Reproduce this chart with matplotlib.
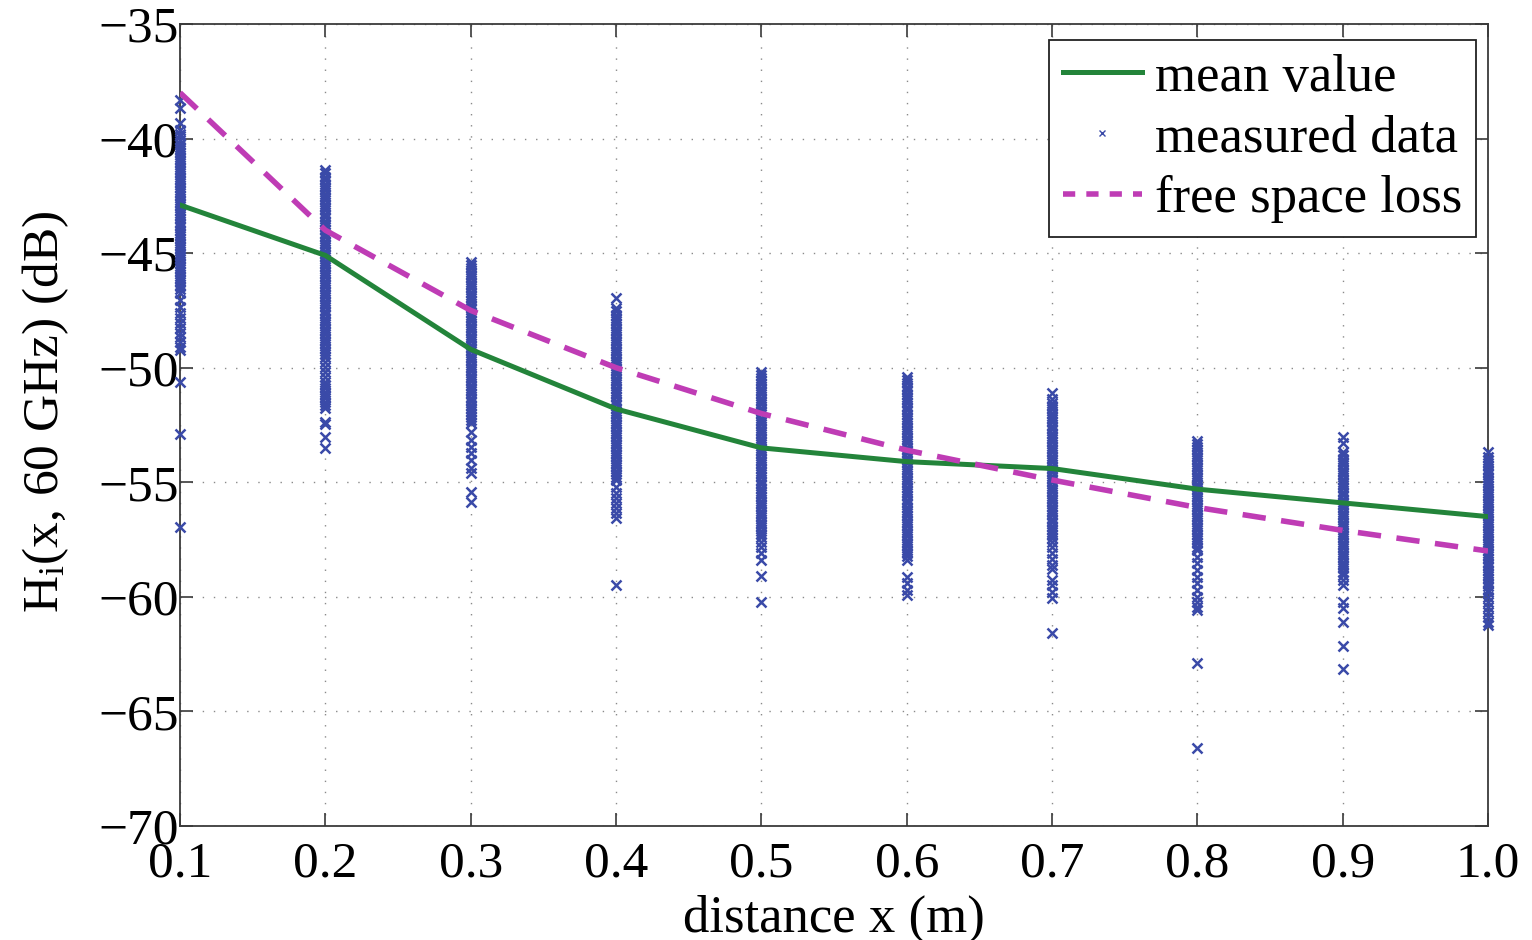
import matplotlib
matplotlib.use("Agg")
import matplotlib.pyplot as plt
from matplotlib.lines import Line2D

plt.rcParams['font.family'] = ['Liberation Serif', 'DejaVu Serif']
plt.rcParams['mathtext.fontset'] = 'custom'
plt.rcParams['mathtext.rm'] = 'Liberation Serif'
plt.rcParams['mathtext.it'] = 'Liberation Serif:italic'

# distances (m)
distance = [0.1, 0.2, 0.3, 0.4, 0.5, 0.6, 0.7, 0.8, 0.9, 1.0]

# mean of the measured transfer function (dB)
mean_db = [-42.9, -45.1, -49.2, -51.8, -53.5, -54.1, -54.4, -55.3, -55.9, -56.5]

# free space loss (dB)
fsl_db = [-38.0, -44.0, -47.5, -50.0, -52.0, -53.6, -54.9, -56.1, -57.1, -58.0]

# measured samples, one list per distance (dB)
db_x01 = [-38.32, -38.67, -39.32,
          -39.62, -39.78, -39.91, -40.05, -40.22, -40.36, -40.51, -40.64, -40.8, -40.93,
          -41.08, -41.24, -41.37, -41.52, -41.66, -41.81, -41.95, -42.1, -42.23, -42.39,
          -42.52, -42.68, -42.81, -42.96, -43.1, -43.25, -43.39, -43.53, -43.68, -43.82,
          -43.97, -44.11, -44.26, -44.4, -44.54, -44.69, -44.83, -44.98, -45.12, -45.27,
          -45.41, -45.55, -45.7, -45.84, -45.99, -46.14, -46.28, -46.43, -46.58, -46.72,
          -47.05, -47.35, -47.6, -47.83, -48.05, -48.27, -48.5, -48.67, -48.88, -49.1,
          -49.23, -50.62, -52.89, -56.95]
db_x02 = [-41.37, -41.5,
          -41.68, -41.82, -41.97, -42.12, -42.26, -42.41, -42.55, -42.7, -42.85, -42.99,
          -43.14, -43.28, -43.43, -43.58, -43.72, -43.87, -44.01, -44.16, -44.31, -44.45,
          -44.6, -44.74, -44.89, -45.04, -45.18, -45.33, -45.47, -45.62, -45.77, -45.91,
          -46.06, -46.2, -46.35, -46.5, -46.64, -46.79, -46.93, -47.08, -47.23, -47.37,
          -47.52, -47.66, -47.81, -47.96, -48.1, -48.25, -48.39, -48.54, -48.69, -48.83,
          -48.98, -49.12, -49.27, -49.41, -49.53,
          -49.75, -49.97, -50.19, -50.4, -50.62, -50.75, -50.89, -51.06, -51.19, -51.32,
          -51.5, -51.63, -51.76, -52.37, -52.45, -53.02, -53.5]
db_x03 = [-45.39,
          -45.52, -45.66, -45.81, -45.95, -46.1, -46.24, -46.39, -46.53, -46.68, -46.82,
          -46.97, -47.11, -47.26, -47.4, -47.55, -47.69, -47.84, -47.98, -48.13, -48.27,
          -48.42, -48.56, -48.71, -48.85, -49.0, -49.14, -49.29, -49.43, -49.58, -49.72,
          -49.87, -50.01, -50.16, -50.3, -50.45, -50.59, -50.74, -50.88, -51.03, -51.17,
          -51.32, -51.46, -51.61, -51.75, -51.9, -52.04, -52.17, -52.28,
          -52.41, -52.81, -53.15, -53.46, -53.72, -54.03, -54.38, -54.6, -55.42, -55.86]
db_x04 = [-46.96,
          -47.39, -47.53, -47.68, -47.82, -47.97, -48.11, -48.26, -48.4, -48.55, -48.69,
          -48.84, -48.98, -49.13, -49.27, -49.42, -49.56, -49.71, -49.85, -50.0, -50.14,
          -50.29, -50.43, -50.58, -50.72, -50.87, -51.01, -51.16, -51.3, -51.45, -51.59,
          -51.74, -51.88, -52.03, -52.17, -52.32, -52.46, -52.61, -52.75, -52.9, -53.04,
          -53.19, -53.33, -53.48, -53.62, -53.77, -53.91, -54.06, -54.2, -54.35, -54.49,
          -54.64, -54.78, -54.9,
          -55.21, -55.47, -55.69, -55.9, -56.12, -56.34, -56.56, -59.48]
db_x05 = [-50.19,
          -50.3, -50.44, -50.59, -50.73, -50.88, -51.02, -51.17, -51.31, -51.46, -51.6,
          -51.75, -51.89, -52.04, -52.18, -52.33, -52.47, -52.62, -52.76, -52.91, -53.05,
          -53.2, -53.34, -53.49, -53.63, -53.78, -53.92, -54.07, -54.21, -54.36, -54.5,
          -54.65, -54.79, -54.94, -55.08, -55.23, -55.37, -55.52, -55.66, -55.81, -55.95,
          -56.1, -56.24, -56.39, -56.53, -56.68, -56.82, -56.97, -57.11, -57.26, -57.39,
          -57.6, -57.82, -58.09, -58.39, -59.09, -60.23]
db_x06 = [-50.4,
          -50.55, -50.69, -50.84, -50.98, -51.13, -51.27, -51.42, -51.56, -51.71, -51.85,
          -52.0, -52.14, -52.29, -52.43, -52.58, -52.72, -52.87, -53.01, -53.16, -53.3,
          -53.45, -53.59, -53.74, -53.88, -54.03, -54.17, -54.32, -54.46, -54.61, -54.75,
          -54.9, -55.04, -55.19, -55.33, -55.48, -55.62, -55.77, -55.91, -56.06, -56.2,
          -56.35, -56.49, -56.64, -56.78, -56.93, -57.07, -57.22, -57.36, -57.51, -57.65,
          -57.8, -57.94, -58.09, -58.23, -58.4,
          -59.13, -59.39, -59.7, -59.92]
db_x07 = [-51.1,
          -51.38, -51.52, -51.67, -51.81, -51.96, -52.1, -52.25, -52.39, -52.54, -52.68,
          -52.83, -52.97, -53.12, -53.26, -53.41, -53.55, -53.7, -53.84, -53.99, -54.13,
          -54.28, -54.42, -54.57, -54.71, -54.86, -55.0, -55.15, -55.29, -55.44, -55.58,
          -55.73, -55.87, -56.02, -56.16, -56.31, -56.45, -56.6, -56.74, -56.89, -57.03,
          -57.18, -57.32, -57.45,
          -57.62, -57.84, -58.08, -58.36, -58.6, -58.8,
          -59.26, -59.48, -59.79, -60.05, -61.58]
db_x08 = [-53.18, -53.32, -53.47, -53.61, -53.76, -53.9, -54.05, -54.19, -54.34, -54.48,
          -54.63, -54.77, -54.92, -55.06, -55.21, -55.35, -55.5, -55.64, -55.79, -55.93,
          -56.08, -56.22, -56.37, -56.51, -56.66, -56.8, -56.95, -57.09, -57.24, -57.38,
          -57.53, -57.67, -57.82, -57.95,
          -58.26, -58.52, -58.83, -59.13, -59.4, -59.7, -60.0, -60.23, -60.44, -60.57,
          -62.9, -66.6]
db_x09 = [-53.02, -53.28,
          -53.68, -53.82, -53.97, -54.11, -54.26, -54.4, -54.55, -54.69, -54.84, -54.98,
          -55.13, -55.27, -55.42, -55.56, -55.71, -55.85, -56.0, -56.14, -56.29, -56.43,
          -56.58, -56.72, -56.87, -57.01, -57.16, -57.3, -57.45, -57.59, -57.74, -57.88,
          -58.03, -58.17, -58.32, -58.46, -58.61, -58.75, -58.9, -59.05,
          -59.26, -59.48, -60.23, -60.49, -61.1, -62.15, -63.15]
db_x10 = [-53.7,
          -53.88, -54.02, -54.17, -54.31, -54.46, -54.6, -54.75, -54.89, -55.04, -55.18,
          -55.33, -55.47, -55.62, -55.76, -55.91, -56.05, -56.2, -56.34, -56.49, -56.63,
          -56.78, -56.92, -57.07, -57.21, -57.36, -57.5, -57.65, -57.79, -57.94, -58.08,
          -58.23, -58.37, -58.52, -58.66, -58.81, -58.95, -59.1, -59.24, -59.39, -59.53,
          -59.68, -59.8,
          -60.0, -60.23, -60.44, -60.66, -60.88, -61.1, -61.23]

measured = [db_x01, db_x02, db_x03, db_x04, db_x05,
            db_x06, db_x07, db_x08, db_x09, db_x10]

x_ticks = [0.1, 0.2, 0.3, 0.4, 0.5, 0.6, 0.7, 0.8, 0.9, 1.0]
x_ticklabels = ['0.1', '0.2', '0.3', '0.4', '0.5', '0.6', '0.7', '0.8', '0.9', '1.0']
y_ticks = [-70, -65, -60, -55, -50, -45, -40, -35]

BLUE = '#3a4aa8'
GREEN = '#23843a'
MAGENTA = '#bf3cb5'

fig = plt.figure(figsize=(15.32, 9.40), dpi=100)
ax = fig.add_axes([0.1175, 0.1213, 0.8538, 0.8532])

mx, my = [], []
for d, vals in zip(distance, measured):
    mx.extend([d] * len(vals))
    my.extend(vals)
ax.plot(mx, my, linestyle='none', marker='x', markersize=6.5,
        markeredgewidth=1.8, color=BLUE, clip_on=False, zorder=3)

ax.plot(distance, mean_db, color=GREEN, linewidth=3.6, zorder=4,
        solid_joinstyle='round')
ax.plot(distance, fsl_db, color=MAGENTA, linewidth=4.0, zorder=4,
        dashes=(4.2, 2.8), dash_capstyle='butt')

ax.set_xlim(0.1, 1.0)
ax.set_ylim(-70, -35)
ax.set_xticks(x_ticks)
ax.set_xticklabels(x_ticklabels)
ax.set_yticks(y_ticks)

ax.grid(True, color='#8a8a8a', linestyle=(0, (1, 7)), linewidth=1.0)
ax.set_axisbelow(True)

for s in ax.spines.values():
    s.set_color('#3a3a3a')
    s.set_linewidth(1.3)

ax.tick_params(axis='both', direction='in', length=9.5, width=1.2,
               color='#3a3a3a', top=True, right=True, labelsize=37)
ax.tick_params(axis='x', pad=11)
ax.tick_params(axis='y', pad=1)

ax.set_xlabel('distance x (m)', fontsize=38, labelpad=5)
ax.set_ylabel(r'H$_{\mathrm{i}}$(x, 60 GHz) (dB)', fontsize=37)
ax.yaxis.set_label_coords(-0.083, 0.516)

handles = [
    Line2D([], [], color=GREEN, linewidth=3.6),
    Line2D([], [], color=BLUE, linestyle='none', marker='x', markersize=5,
           markeredgewidth=1.0),
    Line2D([], [], color=MAGENTA, linewidth=4.0, dashes=(2.2, 2.0)),
]
leg = ax.legend(handles, ['mean value', 'measured data', 'free space loss'],
                loc='upper right', bbox_to_anchor=(0.9908, 0.980),
                borderaxespad=0, fontsize=38, frameon=True, fancybox=False,
                framealpha=1, edgecolor='#222222', handlelength=1.5,
                handletextpad=0.25, labelspacing=0.24, borderpad=0.26)
leg.get_frame().set_linewidth(1.3)

fig.savefig('out.png', dpi=100)
